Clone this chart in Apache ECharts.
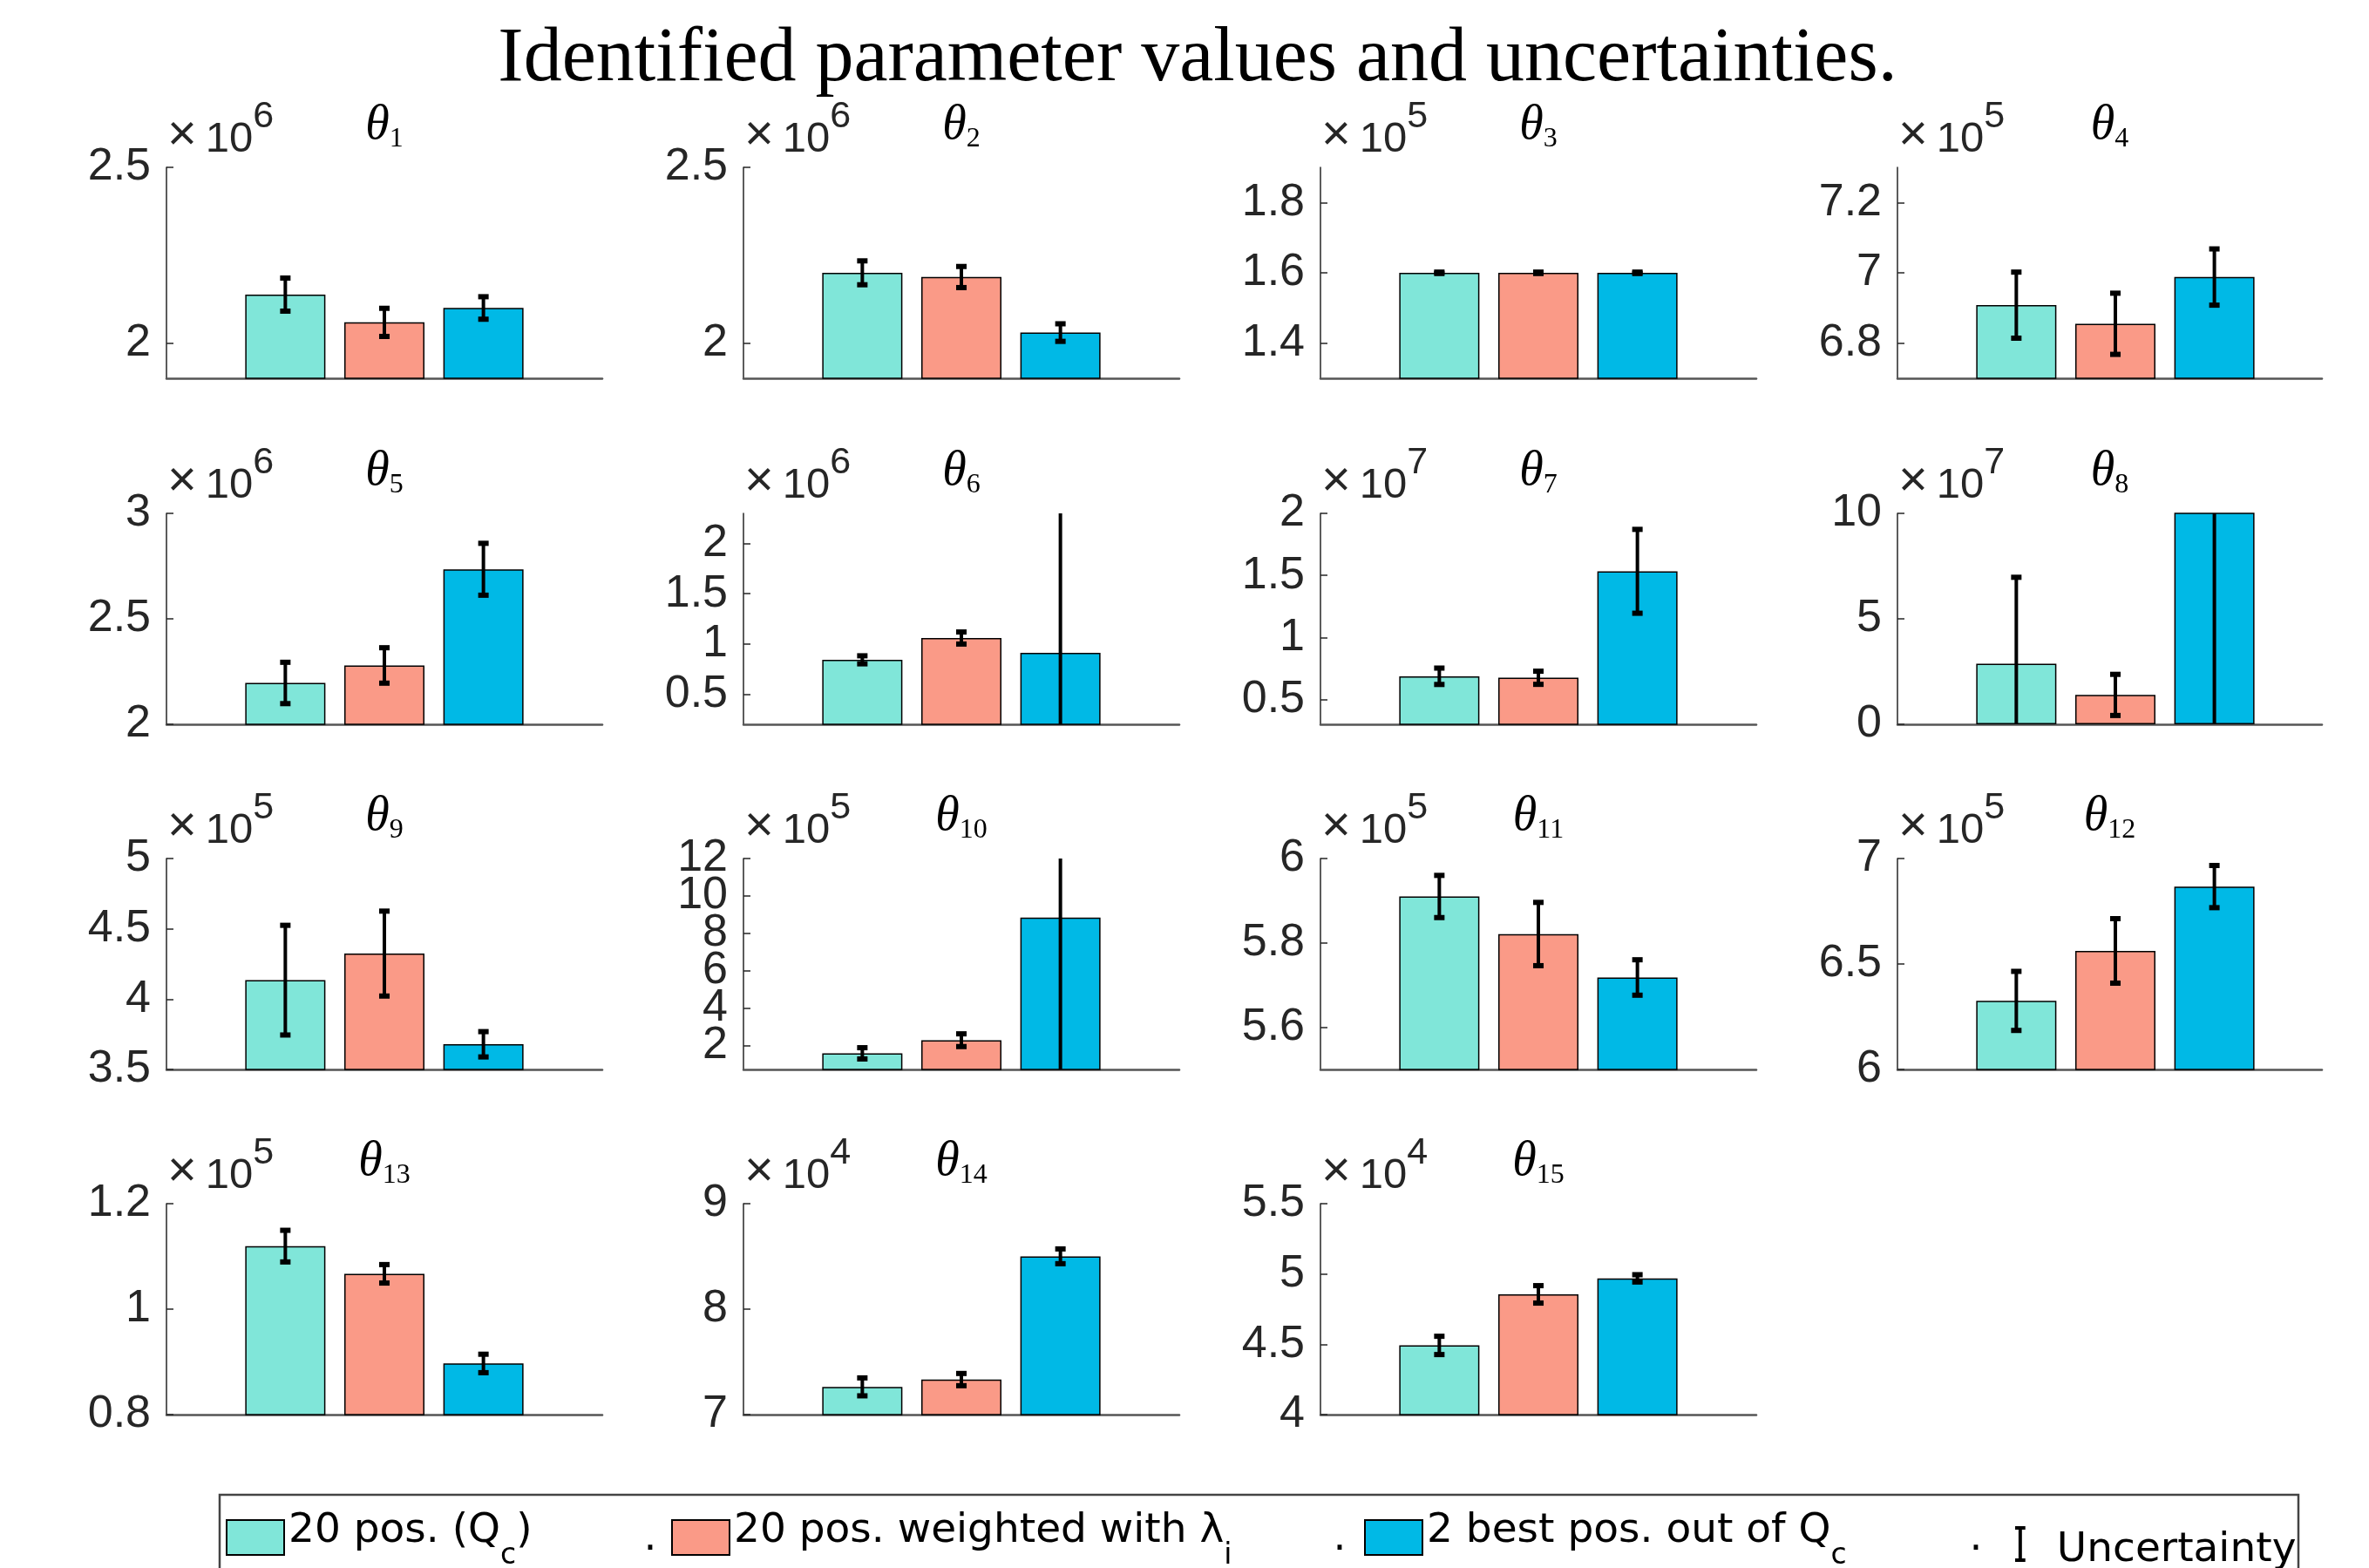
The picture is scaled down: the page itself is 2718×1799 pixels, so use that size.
<!DOCTYPE html>
<html>
<head>
<meta charset="utf-8">
<script src="https://cdn.jsdelivr.net/npm/echarts@6/dist/echarts.min.js"></script>
<style>
html,body{margin:0;padding:0;background:#fff;}
#chart{width:2718px;height:1799px;}
</style>
</head>
<body>
<div id="chart"></div>
<script>
// ---------------- data (values in units of 10^exponent) ----------------
const figureTitle = 'Identified parameter values and uncertainties.';
const paramIndex = ['1','2','3','4','5','6','7','8','9','10','11','12','13','14','15'];
const exponents = [6, 6, 5, 5, 6, 6, 7, 7, 5, 5, 5, 5, 5, 4, 4];
const yMin = [1.9, 1.9, 1.3, 6.7, 2, 0.2, 0.3, 0, 3.5, 0.75, 5.5, 6, 0.8, 7, 4];
const yMax = [2.5, 2.5, 1.9, 7.3, 3, 2.3, 2, 10, 5, 12, 6, 7, 1.2, 9, 5.5];
const yTicks = [
  [2, 2.5], [2, 2.5], [1.4, 1.6, 1.8], [6.8, 7, 7.2],
  [2, 2.5, 3], [0.5, 1, 1.5, 2], [0.5, 1, 1.5, 2], [0, 5, 10],
  [3.5, 4, 4.5, 5], [2, 4, 6, 8, 10, 12], [5.6, 5.8, 6], [6, 6.5, 7],
  [0.8, 1, 1.2], [7, 8, 9], [4, 4.5, 5, 5.5]
];
const seriesNames = ['20 pos. (Qc)', '20 pos. weighted with λi', '2 best pos. out of Qc'];
const uncertaintyName = 'Uncertainty';
const valQc       = [2.138, 2.200, 1.600, 6.908, 2.196, 0.842, 0.687, 2.87,  4.135, 1.61, 5.910, 6.325, 1.1195, 7.263, 4.492];
const valWeighted = [2.059, 2.188, 1.600, 6.855, 2.279, 1.059, 0.675, 1.393, 4.324, 2.31, 5.821, 6.562, 1.067,  7.332, 4.855];
const valBest     = [2.100, 2.030, 1.600, 6.988, 2.735, 0.912, 1.533, 11.5,  3.679, 8.85, 5.718, 6.867, 0.897,  8.501, 4.969];
const errQc       = [0.047, 0.034, 0.002, 0.094, 0.098, 0.040, 0.066, 4.10,  0.390, 0.30, 0.050, 0.140, 0.030,  0.085, 0.065];
const errWeighted = [0.040, 0.030, 0.002, 0.087, 0.084, 0.060, 0.053, 0.975, 0.302, 0.34, 0.075, 0.153, 0.0175, 0.058, 0.062];
const errBest     = [0.032, 0.025, 0.002, 0.080, 0.123, 2.200, 0.338, 13.0,  0.090, 9.50, 0.042, 0.100, 0.0175, 0.070, 0.026];

// ---------------- styling / layout ----------------
const barColors = ['#80E6D9', '#FA9A87', '#00B9E6'];
const colLeft = [191, 853, 1515, 2177];
const colWidth = [500, 500, 500, 487];
const xMaxByCol = [4.2, 4.2, 4.2, 4.086];
const rowTop = [192, 589, 985, 1381];
const plotH = 242;

const groupVals = [valQc, valWeighted, valBest];
const groupErrs = [errQc, errWeighted, errBest];

const axisColor = '#262626';
const sans = 'Liberation Sans, Arial, Helvetica, sans-serif';
const legendFont = 'DejaVu Sans, Verdana, sans-serif';
const serif = 'Liberation Serif, Times New Roman, serif';

const expRich = {
  x: {fontFamily: sans, fontSize: 58, lineHeight: 48, verticalAlign: 'bottom', padding: [0, 10, 0, 1], color: axisColor},
  n: {fontFamily: sans, fontSize: 49, lineHeight: 48, verticalAlign: 'bottom', color: axisColor},
  s: {fontFamily: sans, fontSize: 43, lineHeight: 43, verticalAlign: 'bottom', padding: [0, 0, 29, 0], color: axisColor}
};
const thetaRich = {
  t: {fontFamily: serif, fontStyle: 'italic', fontWeight: 'normal', fontSize: 56, lineHeight: 56, verticalAlign: 'top', color: '#000'},
  s: {fontFamily: serif, fontStyle: 'normal', fontWeight: 'normal', fontSize: 32, lineHeight: 32, verticalAlign: 'top', padding: [28, 0, 0, 0], color: '#000'}
};
const legendRich = {
  m: {fontFamily: legendFont, fontSize: 47, lineHeight: 47, verticalAlign: 'middle', padding: [0, 0, 14, 0], color: '#000'},
  s: {fontFamily: legendFont, fontSize: 33, lineHeight: 33, verticalAlign: 'middle', padding: [43, 0, 0, 0], color: '#000'},
  u: {fontFamily: legendFont, fontSize: 47, lineHeight: 47, verticalAlign: 'middle', padding: [14, 0, 0, 30], color: '#000'}
};
const legendMarkup = {};
legendMarkup[seriesNames[0]] = '{m|20 pos. (Q}{s|c}{m|)}';
legendMarkup[seriesNames[1]] = '{m|20 pos. weighted with λ}{s|i}';
legendMarkup[seriesNames[2]] = '{m|2 best pos. out of Q}{s|c}';
legendMarkup[uncertaintyName] = '{u|Uncertainty}';

function renderErr(params, api) {
  const x = api.value(0), lo = api.value(1), hi = api.value(2);
  const pLo = api.coord([x, lo]);
  const pHi = api.coord([x, hi]);
  const cap = 6;
  return {
    type: 'group',
    children: [
      {type: 'line', shape: {x1: pLo[0], y1: pLo[1], x2: pHi[0], y2: pHi[1]}, style: {stroke: '#000', lineWidth: 4}},
      {type: 'line', shape: {x1: pHi[0] - cap, y1: pHi[1], x2: pHi[0] + cap, y2: pHi[1]}, style: {stroke: '#000', lineWidth: 6}},
      {type: 'line', shape: {x1: pLo[0] - cap, y1: pLo[1], x2: pLo[0] + cap, y2: pLo[1]}, style: {stroke: '#000', lineWidth: 6}}
    ]
  };
}

const labelFormatter = v => String(+(+v).toFixed(4));
const grids = [], xAxes = [], yAxes = [], series = [], titles = [];
titles.push({
  text: figureTitle, left: 1374, top: 25, textAlign: 'center', padding: 0,
  textStyle: {fontFamily: serif, fontSize: 88, lineHeight: 88, fontWeight: 'normal', color: '#000'}
});

for (let i = 0; i < paramIndex.length; i++) {
  const r = Math.floor(i / 4), c = i % 4;
  const ticksEven = yTicks[i].filter((_, k) => k % 2 === 0);
  const ticksOdd = yTicks[i].filter((_, k) => k % 2 === 1);
  grids.push({left: colLeft[c], top: rowTop[r], width: colWidth[c], height: plotH, containLabel: false, outerBoundsMode: 'none'});
  xAxes.push({
    type: 'value', gridIndex: i, min: -0.2, max: xMaxByCol[c],
    axisLine: {show: true, onZero: false, lineStyle: {color: '#555', width: 2.5}},
    axisTick: {show: false}, axisLabel: {show: false}, splitLine: {show: false}
  });
  // main y axis: line, all ticks, every other label, exponent name
  yAxes.push({
    type: 'value', gridIndex: i, position: 'left', offset: 0, min: yMin[i], max: yMax[i],
    axisLine: {show: true, onZero: false, lineStyle: {color: axisColor, width: 1.5}},
    axisTick: {show: true, inside: true, length: 8, customValues: yTicks[i], lineStyle: {color: axisColor, width: 1.5}},
    axisLabel: {
      show: true, customValues: ticksEven, margin: 18, hideOverlap: false,
      formatter: labelFormatter, fontFamily: sans, fontSize: 52, color: axisColor
    },
    splitLine: {show: false},
    name: '{x|×}{n|10}{s|' + exponents[i] + '}',
    nameLocation: 'end', nameGap: 7,
    nameTextStyle: {align: 'left', verticalAlign: 'bottom', rich: expRich}
  });
  // companion axis on the same scale carrying the remaining labels
  yAxes.push({
    type: 'value', gridIndex: i, position: 'left', offset: 0, min: yMin[i], max: yMax[i],
    axisLine: {show: false, onZero: false}, axisTick: {show: false},
    axisLabel: {
      show: ticksOdd.length > 0, customValues: ticksOdd.length ? ticksOdd : [yMin[i]], margin: 18, hideOverlap: false,
      formatter: labelFormatter, fontFamily: sans, fontSize: 52, color: axisColor
    },
    splitLine: {show: false}
  });
  titles.push({
    text: '{t|θ}{s|' + paramIndex[i] + '}',
    left: colLeft[c] + colWidth[c] / 2, top: rowTop[r] - 76, textAlign: 'center', padding: 0,
    textStyle: {fontWeight: 'normal', rich: thetaRich}
  });
  for (let g = 0; g < 3; g++) {
    series.push({
      type: 'bar', name: seriesNames[g], xAxisIndex: i, yAxisIndex: 2 * i,
      data: [[g + 1, groupVals[g][i]]],
      barWidth: 92, barGap: '-100%', clip: true, silent: true,
      itemStyle: {color: barColors[g], borderColor: '#000', borderWidth: 1.5}
    });
  }
  series.push({
    type: 'custom', name: uncertaintyName, xAxisIndex: i, yAxisIndex: 2 * i,
    data: [0, 1, 2].map(g => [g + 1, groupVals[g][i] - groupErrs[g][i], groupVals[g][i] + groupErrs[g][i]]),
    encode: {x: 0, y: [1, 2]}, renderItem: renderErr, clip: true, z: 5, silent: true,
    itemStyle: {color: '#000'}
  });
}

const legendSpecs = [
  {name: seriesNames[0], left: 259, top: 1726, w: 66, h: 40, icon: 'rect'},
  {name: seriesNames[1], left: 770, top: 1726, w: 66, h: 40, icon: 'rect'},
  {name: seriesNames[2], left: 1565, top: 1726, w: 66, h: 40, icon: 'rect'},
  {name: uncertaintyName, left: 2312, top: 1741, w: 14, h: 41, icon: 'path://M0,0H12V4H8V38H12V42H0V38H4V4H0Z'}
];
const legends = legendSpecs.map(s => ({
  show: true, left: s.left, top: s.top, orient: 'horizontal', padding: 0, itemGap: 0,
  itemWidth: s.w, itemHeight: s.h, selectedMode: false,
  data: [{name: s.name, icon: s.icon}],
  formatter: name => legendMarkup[name],
  textStyle: {color: '#000', fontFamily: legendFont, fontSize: 47, rich: legendRich}
}));

const dotXs = [746, 1537, 2267];
const graphics = [
  {type: 'rect', z: -1, shape: {x: 252, y: 1715, width: 2385, height: 200}, style: {fill: '#fff', stroke: '#444', lineWidth: 2.5}}
].concat(dotXs.map(x => ({
  type: 'text', x: x, y: 1766, style: {text: '.', fontFamily: legendFont, fontSize: 47, fill: '#000', align: 'center', verticalAlign: 'middle'}
})));

const chart = echarts.init(document.getElementById('chart'), null, {renderer: 'canvas', width: 2718, height: 1799});
chart.setOption({
  animation: false,
  backgroundColor: '#fff',
  title: titles,
  grid: grids,
  xAxis: xAxes,
  yAxis: yAxes,
  legend: legends,
  graphic: graphics,
  series: series
});
</script>
</body>
</html>
